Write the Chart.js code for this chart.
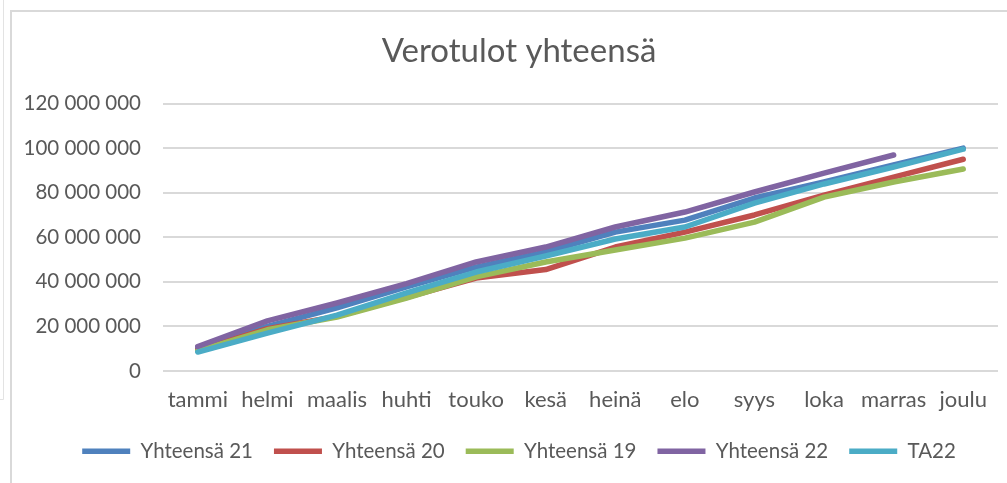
<!DOCTYPE html>
<html>
<head>
<meta charset="utf-8">
<script src="https://cdn.jsdelivr.net/npm/chart.js@4/dist/chart.umd.min.js"></script>
<style>
    html, body { margin: 0; padding: 0; background: #ffffff; }
    #wrap { position: relative; width: 1007px; height: 483px; }
</style>
</head>
<body>
<div id="wrap"><canvas id="verotulot" width="1007" height="483"></canvas></div>
<script>
// Kuukaudet
const kuukaudet = ['tammi', 'helmi', 'maalis', 'huhti', 'touko', 'kesä', 'heinä', 'elo', 'syys', 'loka', 'marras', 'joulu'];

// Kertymät (euroa)
const yhteensa21 = [10000000, 20000000, 28300000, 37700000, 46600000, 53400000, 62300000, 67700000, 77600000, 84800000, 92400000, 100000000];
const yhteensa20 = [9500000, 19000000, 24500000, 33000000, 41700000, 45500000, 55600000, 62300000, 70000000, 78900000, 87000000, 95000000];
const yhteensa19 = [9000000, 18500000, 24200000, 32700000, 42200000, 48900000, 54300000, 59600000, 66800000, 78000000, 84800000, 90600000];
const yhteensa22 = [11000000, 22500000, 30500000, 39200000, 48900000, 55600000, 64600000, 71300000, 80300000, 88800000, 96900000, null];
const ta22 = [8500000, 17000000, 25100000, 35000000, 44400000, 51600000, 59200000, 64600000, 75300000, 83900000, 91500000, 99500000];

// Y-akselin asteikko
const yMin = 0;
const yMax = 120000000;
const yStep = 20000000;

const VARIT = {
    sininen: '#4f81bd',
    punainen: '#c0504d',
    vihrea: '#9bbb59',
    violetti: '#8064a2',
    turkoosi: '#4bacc6',
    teksti: '#595959',
    ruudukko: '#d9d9d9'
};

const FONTTI = 'Lato, "Open Sans", sans-serif';

function muotoile(v) {
    return String(v).replace(/\B(?=(\d{3})+(?!\d))/g, ' ');
}

function sarja(nimi, data, vari, jarjestys) {
    return {
        label: nimi,
        data: data,
        borderColor: vari,
        backgroundColor: vari,
        borderWidth: 5.5,
        borderCapStyle: 'round',
        borderJoinStyle: 'round',
        pointRadius: 0,
        pointHoverRadius: 0,
        tension: 0,
        fill: false,
        order: jarjestys
    };
}

// Kehykset (kaavion reunus + taustalla oleva objekti)
const kehys = {
    id: 'kehys',
    afterLayout(chart) {
        // y-akselin tekstit saavat ulottua vasempaan reunaan asti (ei leikkausta)
        chart.scales.y.left = 0;
    },
    beforeDraw(chart) {
        const ctx = chart.ctx;
        ctx.save();
        ctx.strokeStyle = '#e3e3e3';
        ctx.lineWidth = 1;
        ctx.beginPath();
        ctx.moveTo(3.5, 0);
        ctx.lineTo(3.5, 399.5);
        ctx.lineTo(0, 399.5);
        ctx.stroke();
        ctx.strokeStyle = VARIT.ruudukko;
        ctx.lineWidth = 2;
        ctx.strokeRect(11, 11, 1100, 600);
        ctx.restore();
    }
};

const ctx = document.getElementById('verotulot').getContext('2d');
const kaavio = new Chart(ctx, {
    type: 'line',
    data: {
        labels: kuukaudet,
        datasets: [
            sarja('Yhteensä 21', yhteensa21, VARIT.sininen, 5),
            sarja('Yhteensä 20', yhteensa20, VARIT.punainen, 4),
            sarja('Yhteensä 19', yhteensa19, VARIT.vihrea, 3),
            sarja('Yhteensä 22', yhteensa22, VARIT.violetti, 2),
            sarja('TA22', ta22, VARIT.turkoosi, 1)
        ]
    },
    options: {
        responsive: false,
        animation: false,
        layout: { padding: { left: 40, right: 9, top: 0, bottom: 11.5 } },
        plugins: {
            title: {
                display: true,
                text: 'Verotulot yhteensä',
                color: VARIT.teksti,
                font: { family: FONTTI, size: 33, weight: 'normal' },
                padding: { top: 31.7, bottom: 32.2 }
            },
            legend: {
                position: 'bottom',
                labels: {
                    sort: (a, b) => a.datasetIndex - b.datasetIndex,
                    usePointStyle: true,
                    pointStyle: 'line',
                    pointStyleWidth: 48,
                    padding: 21,
                    color: VARIT.teksti,
                    font: { family: FONTTI, size: 20.5 }
                }
            },
            tooltip: { enabled: false }
        },
        scales: {
            x: {
                offset: true,
                grid: { display: false, drawTicks: false },
                border: { display: false },
                ticks: {
                    color: VARIT.teksti,
                    font: { family: FONTTI, size: 22 },
                    padding: 15.8,
                    maxRotation: 0,
                    autoSkip: false
                },
                afterFit(scale) { scale.height = 49; }
            },
            y: {
                min: yMin,
                max: yMax,
                grid: { color: VARIT.ruudukko, lineWidth: 2, drawTicks: false },
                border: { display: false },
                ticks: {
                    stepSize: yStep,
                    color: VARIT.teksti,
                    font: { family: FONTTI, size: 20.5 },
                    padding: 22,
                    callback: (v) => muotoile(v)
                },
                afterFit(scale) { scale.width = 123; }
            }
        }
    },
    plugins: [kehys]
});
</script>
</body>
</html>
